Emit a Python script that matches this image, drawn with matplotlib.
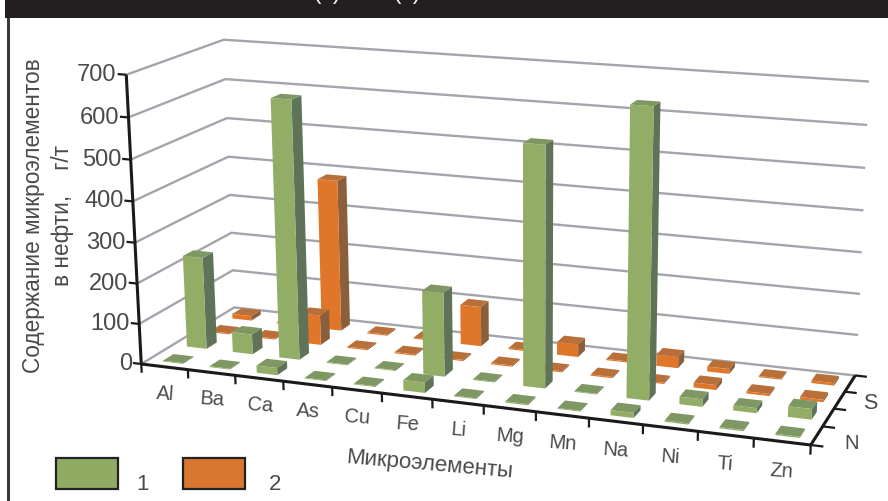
import numpy as np
import matplotlib
matplotlib.use("Agg")
import matplotlib.pyplot as plt
from matplotlib.patches import Rectangle

W, H = 888, 502

elements = ["Al", "Ba", "Ca", "As", "Cu", "Fe", "Li", "Mg", "Mn", "Na", "Ni", "Ti", "Zn"]
z_ticks = [0, 100, 200, 300, 400, 500, 600, 700]

# values per depth row, front to back (g/t)
row0_green = [2, 2, 18, 2, 2, 25, 2, 3, 2, 12, 3, 3, 3]
row1_green = [230, 50, 635, 2, 2, 205, 2, 575, 2, 680, 18, 12, 25]
row2_orange = [3, 3, 75, 3, 3, 3, 3, 3, 3, 3, 12, 5, 6]
row3_orange = [12, 3, 385, 3, 3, 100, 3, 32, 3, 28, 12, 3, 6]

# face colours for bar3d: bottom, top, front, back, left, right
NONE = (0, 0, 0, 0)
GREEN_FACES = [NONE, "#7f9763", "#92ad66", NONE, NONE, "#5f7358"]
ORANGE_FACES = [NONE, "#b96f38", "#e0762a", NONE, NONE, "#8c5f3c"]

GRID = "#a4a4ac"
TEXT = "#4a4a4a"
FONT = "Liberation Sans"
BAR_W = 0.43
BAR_D = 0.44

# the original is a tilted excel-style 3d chart, so the camera is calibrated
# from where the corners of the box sit in the picture
box_corners = [(0, 0, 0), (13, 0, 0), (13, 4, 0), (0, 4, 0), (0, 0, 700),
               (0, 4, 700), (13, 4, 700), (6, 0, 0), (3, 0, 0), (10, 0, 0)]
box_pixels = [(140, 364), (811, 447), (855, 375), (236, 310), (128, 76),
              (222, 40), (868, 83), (432, 400), (283, 382), (643, 426)]


def fit_camera():
    rows = []
    for (x, y, z), (u, v) in zip(box_corners, box_pixels):
        p = [x / 13, y / 4, z / 700, 1]
        v = H - v
        rows.append(p + [0, 0, 0, 0] + [-u * c for c in p])
        rows.append([0, 0, 0, 0] + p + [-v * c for c in p])
    P = np.linalg.svd(np.array(rows, dtype=float))[2][-1].reshape(3, 4)
    P = P @ np.diag([1 / 13, 1 / 4, 1 / 700, 1])
    return P / P[2, 3]


def px(x, y):
    return x / W, 1 - y / H


def project(x, y, z):
    # figure fractions of a point of the box
    u, v, w = CAMERA @ np.array([x, y, z, 1.0])
    return u / w / W, v / w / H


CAMERA = fit_camera()

fig = plt.figure(figsize=(W / 100, H / 100), dpi=100, facecolor="white")
# square axes as wide as the figure, mplot3d always keeps them square
ax = fig.add_axes([0, -(W - H) / 2 / H, 1, W / H], projection="3d", computed_zorder=False)
ax.set_axis_off()


def get_proj():
    A = ax.transData.inverted().get_matrix()
    M = np.zeros((4, 4))
    M[0] = A[0, 0] * CAMERA[0] + A[0, 1] * CAMERA[1] + A[0, 2] * CAMERA[2]
    M[1] = A[1, 0] * CAMERA[0] + A[1, 1] * CAMERA[1] + A[1, 2] * CAMERA[2]
    M[2] = [0, 0, 0, -0.5]
    M[3] = CAMERA[2]
    return M


ax.get_proj = get_proj

# walls
for z in z_ticks:
    ax.plot([0, 0, 13], [0, 4, 4], [z, z, z], color=GRID, lw=1.7, zorder=1)

# bars, back row first
rows = [row3_orange, row2_orange, row1_green, row0_green]
faces = [ORANGE_FACES, ORANGE_FACES, GREEN_FACES, GREEN_FACES]
row_pos = [3, 2, 1, 0]
order = 10
for values, face, j in zip(rows, faces, row_pos):
    for i, v in enumerate(values):
        ax.bar3d(i + 0.5 - BAR_W / 2 + 0.03, j + 0.5 - BAR_D / 2, 0, BAR_W, BAR_D, v, color=face,
                 shade=False, edgecolor="none", linewidth=0, zorder=order)
        order += 1

# axis lines and ticks
axis_kw = dict(color="#1a1a1a", lw=2.2, zorder=100, solid_capstyle="butt")
tick_kw = dict(color="#1a1a1a", lw=1.6, zorder=100, solid_capstyle="butt")
ax.plot([0, 0], [0, 0], [0, 700], **axis_kw)
ax.plot([0, 13], [0, 0], [0, 0], **axis_kw)
ax.plot([13, 13], [0, 4], [0, 0], **axis_kw)
for z in z_ticks:
    ax.plot([-0.18, 0], [0, 0], [z, z], **tick_kw)
    fig.text(*project(-0.2, 0, z), str(z), ha="right", va="center", fontsize=17, color=TEXT,
             family=FONT)
for i in range(14):
    ax.plot([i, i], [0, 0], [0, -22], **tick_kw)
for j in range(5):
    ax.plot([13, 13.22], [j, j], [0, 0], **tick_kw)
for i, name in enumerate(elements):
    fig.text(*project(i + 0.5, 0, -65), name, ha="center", va="center", rotation=-4,
             fontsize=14.5, color=TEXT, family=FONT)
fig.text(*project(13.48, 3, -20), "S", ha="center", va="center", fontsize=15.5, color=TEXT, family=FONT)
fig.text(*project(13.53, 1, -30), "N", ha="center", va="center", fontsize=14.5, color=TEXT, family=FONT)

# axis titles
fig.text(*px(34, 216), "Содержание микроэлементов", rotation=90, ha="center", va="center",
         fontsize=16.3, color=TEXT, family=FONT)
fig.text(*px(62, 216), "в нефти,    г/т", rotation=90, ha="center", va="center",
         fontsize=16.3, color=TEXT, family=FONT)
fig.text(*px(429, 465), "Микроэлементы", rotation=-5, ha="center", va="center",
         fontsize=16, color=TEXT, family=FONT)

# legend, drawn by hand as in the journal layout
for x0, colour, label, lx in [(56, "#8fab64", "1", 143), (183, "#d9762f", "2", 275)]:
    fig.add_artist(Rectangle(px(x0, 490), 62 / W, 31 / H, transform=fig.transFigure,
                             facecolor=colour, edgecolor="#222222", lw=1.6))
    fig.text(*px(lx, 485), label, ha="center", va="center", fontsize=16, color=TEXT, family=FONT)

# page furniture: white strip cutting the bottom, black header, left rule
fig.add_artist(Rectangle(px(12, 502), (W - 12) / W, 10 / H, transform=fig.transFigure,
                         facecolor="white", edgecolor="none", zorder=5))
fig.add_artist(Rectangle(px(5, 19), (W - 5) / W, 19 / H, transform=fig.transFigure,
                         facecolor="#231f20", edgecolor="none", zorder=6))
fig.add_artist(Rectangle(px(7, 502), 2.5 / W, (H - 19) / H, transform=fig.transFigure,
                         facecolor="#3a3a3a", edgecolor="none", zorder=6))
# only the feet of the cropped heading show
for x0, s in [(327, "(1)"), (407, "(2)")]:
    fig.text(x0 / W, 1 + 1 / H, s, ha="center", va="baseline", fontsize=16, color="white",
             family=FONT, zorder=7)

fig.savefig("out.png", dpi=100)
